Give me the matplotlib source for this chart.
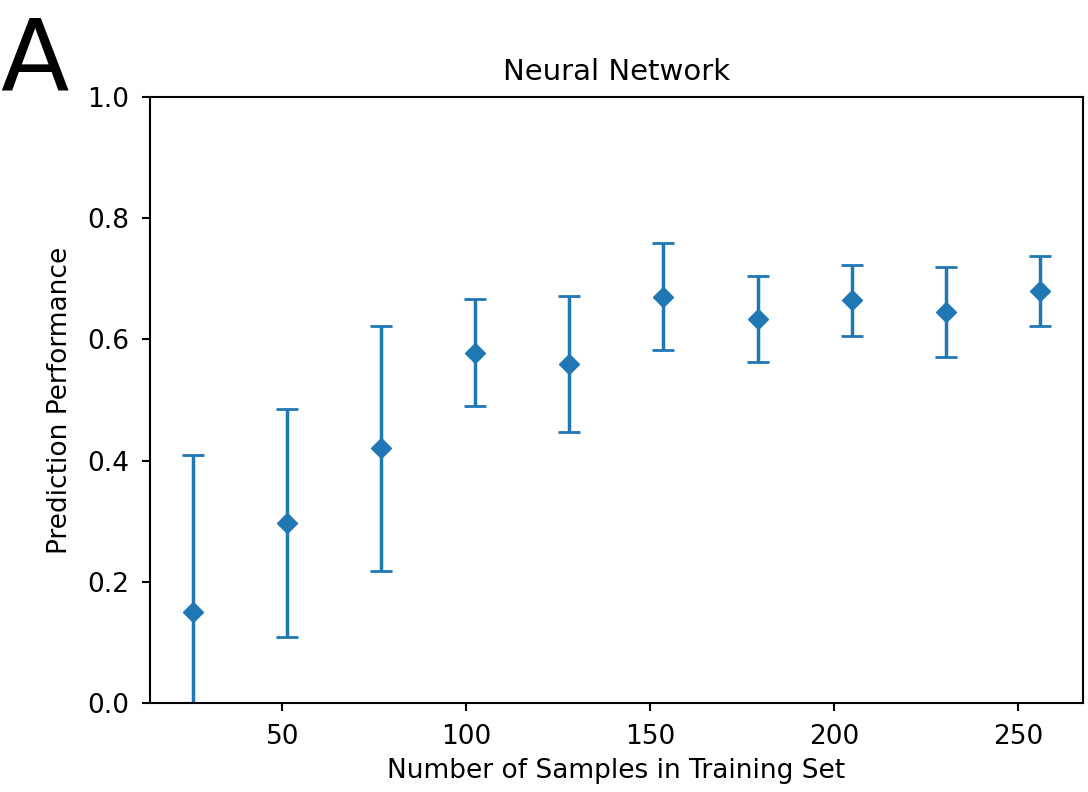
import numpy as np
import matplotlib
matplotlib.use("Agg")
import matplotlib.pyplot as plt

# training set sizes and mean / std of prediction performance
n_samples = [25.6, 51.2, 76.8, 102.4, 128.0, 153.6, 179.2, 204.8, 230.4, 256.0]
perf_mean = [0.150, 0.297, 0.420, 0.578, 0.560, 0.670, 0.634, 0.664, 0.645, 0.680]
perf_std = [0.260, 0.188, 0.202, 0.088, 0.112, 0.088, 0.071, 0.059, 0.074, 0.058]

plt.rcParams['font.size'] = 19

fig = plt.figure(figsize=(10.88, 7.92), dpi=100)
ax = fig.add_axes([0.138, 0.112, 0.857, 0.766])

ax.errorbar(n_samples, perf_mean, yerr=perf_std, fmt='D', color='#1f77b4',
            markersize=10, elinewidth=2.5, capsize=8, capthick=2)

ax.set_ylim(0, 1.0)
ax.set_yticks([0.0, 0.2, 0.4, 0.6, 0.8, 1.0])
ax.set_xticks([50, 100, 150, 200, 250])
ax.set_xlabel('Number of Samples in Training Set', labelpad=6)
ax.set_ylabel('Prediction Performance', labelpad=10)
ax.set_title('Neural Network', fontsize=21, pad=12)
for s in ax.spines.values():
    s.set_linewidth(1.5)
ax.tick_params(width=1.5, length=6, pad=9)

fig.text(0.0, 0.886, 'A', fontsize=72, ha='left', va='baseline')

fig.savefig('out.png', dpi=100)
